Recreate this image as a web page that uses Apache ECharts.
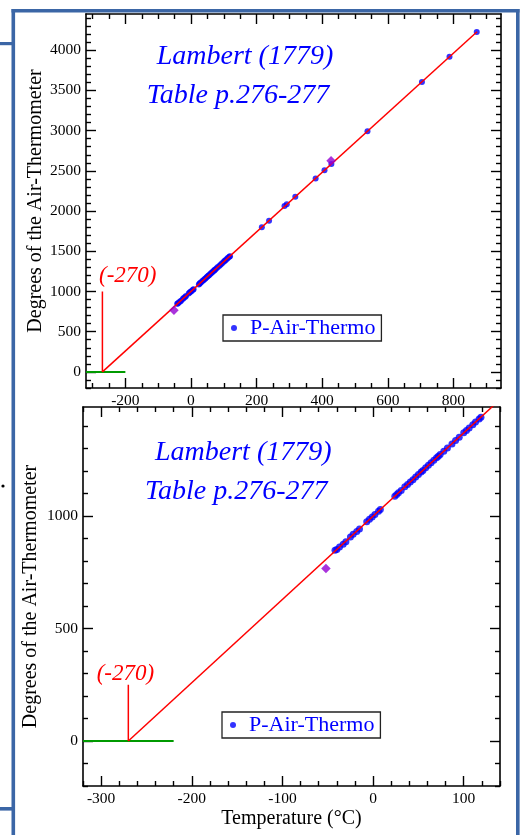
<!DOCTYPE html>
<html><head><meta charset="utf-8">
<script src="https://cdn.jsdelivr.net/npm/echarts@6/dist/echarts.min.js"></script>
<style>html,body{margin:0;padding:0;background:#fff;}#c{width:526px;height:835px;}</style>
</head><body><div id="c"></div>
<script>
// ---- data ----
const tempC = [-42,-40,-37,-33,-30,-25,-22,-18,-15,-7,-4,-1,2,6,8,24,26,28,31,35,38,41,44,47,50,53,55,58,61,64,67,70,72,74,78,82,87,91,95,100,103,106,110,113,117,119,
  216,238,285,292,318,380,407,428,538,704,788,871];
const airDeg = [848,852,863,875,886,907,919,932,943,975,986,996,1007,1021,1029,1088,1096,1104,1114,1130,1140,1152,1162,1174,1185,1196,1203,1215,1226,1237,1248,1259,1266,1274,1288,1303,1321,1336,1351,1370,1381,1392,1406,1418,1432,1439,
  1798,1880,2062,2084,2177,2405,2508,2584,2992,3605,3917,4227];
const outlierT = [-52, 427];
const outlierDeg = [767, 2624];
const fitTopT = [-270, 872], fitTopDeg = [0, 4230];
const fitBotT = [-270, 140], fitBotDeg = [0, 1518];
const zeroMark = -270;
const markTopDeg = [0, 1000], markBotDeg = [0, 250];
const greenTopT = [-320, -200], greenBotT = [-320, -220];
const topXTicks = [-200, 0, 200, 400, 600, 800];
const topYTicks = [0, 500, 1000, 1500, 2000, 2500, 3000, 3500, 4000];
const botXTicks = [-300, -200, -100, 0, 100];
const botYTicks = [0, 500, 1000];
const seriesName = 'P-Air-Thermo';
const titleLines = ['Lambert (1779)', 'Table p.276-277'];
const xTitle = 'Temperature (°C)';
const yTitle = 'Degrees of the Air-Thermometer';

// ---- helpers ----
function steps(min, max, step) { const a = []; for (let v = Math.ceil(min / step) * step; v <= max; v += step) a.push(v); return a; }
const pairs = (xs, ys) => xs.map((x, i) => [x, ys[i]]);
const FONT = '"Liberation Serif", "Times New Roman", serif';
const axColor = '#000';
function axes(kind, grid, min, max, majors, minorStep, name, nameGap) {
  const minors = steps(min, max, minorStep).filter(v => majors.indexOf(v) < 0);
  const main = kind === 'x' ? 'bottom' : 'left', opp = kind === 'x' ? 'top' : 'right';
  const base = { type: 'value', gridIndex: grid, min: min, max: max, splitLine: { show: false } };
  const mk = (pos, ticks, len, labels, line) => Object.assign({}, base, {
    position: pos,
    axisLine: { show: line, onZero: false, lineStyle: { color: axColor, width: 1.6 } },
    axisTick: { show: true, inside: true, length: len, customValues: ticks, lineStyle: { color: axColor, width: 1.4 } },
    axisLabel: labels ? { show: true, customValues: majors, formatter: v => String(v), color: '#000', fontFamily: FONT, fontSize: 15.5, margin: 5 } : { show: false }
  });
  const a0 = mk(main, majors, 10, true, true);
  if (name) {
    Object.assign(a0, { name: name, nameLocation: 'middle', nameGap: nameGap, nameMoveOverlap: false,
      nameTextStyle: { fontFamily: FONT, fontSize: 20, color: '#000' } });
  }
  return [a0, mk(main, minors, 5, false, false), mk(opp, majors, 10, false, true), mk(opp, minors, 5, false, false)];
}

const xAxis = [].concat(
  axes('x', 0, -320, 945, topXTicks, 50, null),
  axes('x', 1, -320, 140, botXTicks, 20, xTitle, 23)
);
const yAxis = [].concat(
  axes('y', 0, -200, 4450, topYTicks, 100, yTitle, 40),
  axes('y', 1, -200, 1485, botYTicks, 100, yTitle, 42)
);

function panelSeries(g, fitT, fitDeg, markDeg, greenT, dotSize) {
  const xi = g * 4, yi = g * 4;
  return [
    { type: 'scatter', name: seriesName, xAxisIndex: xi, yAxisIndex: yi, data: pairs(tempC, airDeg),
      symbol: 'circle', symbolSize: dotSize, itemStyle: { color: '#0000ff' }, z: 3, silent: true },
    { type: 'line', xAxisIndex: xi, yAxisIndex: yi, data: pairs(fitT, fitDeg), symbol: 'none',
      lineStyle: { color: '#ff0000', width: 1.5 }, z: 4, silent: true },
    { type: 'line', xAxisIndex: xi, yAxisIndex: yi, data: pairs([zeroMark, zeroMark], markDeg), symbol: 'none',
      lineStyle: { color: '#ff0000', width: 1.5 }, z: 4, silent: true },
    { type: 'line', xAxisIndex: xi, yAxisIndex: yi, data: pairs(greenT, [0, 0]), symbol: 'none',
      lineStyle: { color: '#009a00', width: 2 }, z: 2, silent: true },
    { type: 'scatter', xAxisIndex: xi, yAxisIndex: yi, data: pairs(outlierT, outlierDeg),
      symbol: 'diamond', symbolSize: 9.5, itemStyle: { color: '#9400d3' }, z: 5, silent: true }
  ];
}

const blue = '#3b66a6';
const legendBase = {
  data: [seriesName], icon: 'circle', itemWidth: 6, itemHeight: 6, selectedMode: false,
  borderColor: '#222', borderWidth: 1.3, padding: [2, 6, 2, 8], backgroundColor: '#fff',
  textStyle: { fontFamily: FONT, fontSize: 22, color: '#0000ff', padding: [0, 0, 0, 8] }
};
const titleFont = 'italic 28px ' + FONT;
const option = {
  animation: false,
  backgroundColor: '#fff',
  grid: [
    { left: 86, top: 14, width: 415, height: 374 },
    { left: 83, top: 407, width: 417, height: 379 }
  ],
  xAxis: xAxis, yAxis: yAxis,
  legend: [
    Object.assign({}, legendBase, { left: 223, top: 315 }),
    Object.assign({}, legendBase, { left: 222, top: 712 })
  ],
  series: [].concat(panelSeries(0, fitTopT, fitTopDeg, markTopDeg, greenTopT, 6),
                    panelSeries(1, fitBotT, fitBotDeg, markBotDeg, greenBotT, 7)),
  graphic: [
    { type: 'rect', shape: { x: 11.5, y: 9, width: 508, height: 3.4 }, style: { fill: blue }, z: -1, silent: true },
    { type: 'rect', shape: { x: 11.5, y: 9, width: 3.6, height: 830 }, style: { fill: blue }, z: -1, silent: true },
    { type: 'rect', shape: { x: 516, y: 9, width: 3.6, height: 830 }, style: { fill: blue }, z: -1, silent: true },
    { type: 'rect', shape: { x: 0, y: 42, width: 12, height: 3.2 }, style: { fill: blue }, z: -1, silent: true },
    { type: 'rect', shape: { x: 0, y: 807, width: 12, height: 3.6 }, style: { fill: blue }, z: -1, silent: true },
    { type: 'circle', shape: { cx: 3, cy: 486, r: 1.6 }, style: { fill: '#000' }, silent: true },
    { type: 'text', x: 156.7, y: 56.5, style: { text: titleLines[0], font: titleFont, fill: '#0000ff', verticalAlign: 'middle' }, silent: true },
    { type: 'text', x: 146.7, y: 95.5, style: { text: titleLines[1], font: titleFont, fill: '#0000ff', verticalAlign: 'middle' }, silent: true },
    { type: 'text', x: 155, y: 453, style: { text: titleLines[0], font: titleFont, fill: '#0000ff', verticalAlign: 'middle' }, silent: true },
    { type: 'text', x: 145, y: 492, style: { text: titleLines[1], font: titleFont, fill: '#0000ff', verticalAlign: 'middle' }, silent: true },
    { type: 'text', x: 99, y: 275.5, style: { text: '(' + zeroMark + ')', font: 'italic 23px ' + FONT, fill: '#ff0000', verticalAlign: 'middle' }, silent: true },
    { type: 'text', x: 96.7, y: 674, style: { text: '(' + zeroMark + ')', font: 'italic 23px ' + FONT, fill: '#ff0000', verticalAlign: 'middle' }, silent: true }
  ]
};
const chart = echarts.init(document.getElementById('c'), null, { renderer: 'canvas' });
chart.setOption(option);
</script></body></html>
